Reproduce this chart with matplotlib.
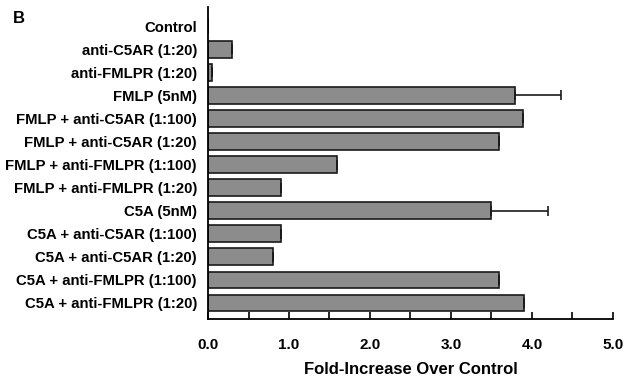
import numpy as np
import matplotlib.pyplot as plt

labels = ["Control", "anti-C5AR (1:20)", "anti-FMLPR (1:20)", "FMLP (5nM)",
          "FMLP + anti-C5AR (1:100)", "FMLP + anti-C5AR (1:20)",
          "FMLP + anti-FMLPR (1:100)", "FMLP + anti-FMLPR (1:20)",
          "C5A (5nM)", "C5A + anti-C5AR (1:100)", "C5A + anti-C5AR (1:20)",
          "C5A + anti-FMLPR (1:100)", "C5A + anti-FMLPR (1:20)"]
fold = [0.0, 0.30, 0.05, 3.79, 3.89, 3.59, 1.59, 0.90, 3.50, 0.90, 0.80, 3.59, 3.90]
err = [0, 0, 0, 0.57, 0, 0, 0, 0, 0.70, 0, 0, 0, 0]
xticks = [0.0, 1.0, 2.0, 3.0, 4.0, 5.0]

plt.rcParams['font.family'] = ['Liberation Sans', 'DejaVu Sans']
plt.rcParams['font.weight'] = 'bold'

fig = plt.figure(figsize=(6.26, 3.79), dpi=100)
ax = fig.add_axes([0.3323, 0.1583, 0.979 - 0.3323, 0.9815 - 0.1583])

y = np.arange(len(labels))
ax.barh(y, fold, height=0.72, color='#8c8c8c', edgecolor='#1a1a1a', linewidth=1.2)
# only the upper half of the error bar is drawn
ax.errorbar(fold, y, xerr=[np.zeros(len(err)), err], fmt='none', ecolor='#1a1a1a',
            elinewidth=1.2, capsize=3.5, capthick=1.2)

ax.set_ylim(12.7, -0.83)
ax.set_xlim(0, 5)
ax.set_yticks(y)
ax.set_yticklabels(labels, fontsize=10.7, fontweight='bold')
ax.tick_params(axis='y', length=0, pad=8)

ax.set_xticks(xticks)
ax.set_xticklabels([f"{v:.1f}" for v in xticks], fontsize=11, fontweight='bold')
ax.set_xticks(np.arange(0.5, 5, 1.0), minor=True)
ax.tick_params(axis='x', which='both', direction='in', length=5, width=1.2, pad=14)

for s in ['top', 'right']:
    ax.spines[s].set_visible(False)
for s in ['left', 'bottom']:
    ax.spines[s].set_linewidth(1.3)

ax.set_xlabel("Fold-Increase Over Control", fontsize=12, fontweight='bold', labelpad=7)
fig.text(0.02, 0.94, "B", fontsize=12, fontweight='bold')

fig.savefig("out.png", dpi=100)
